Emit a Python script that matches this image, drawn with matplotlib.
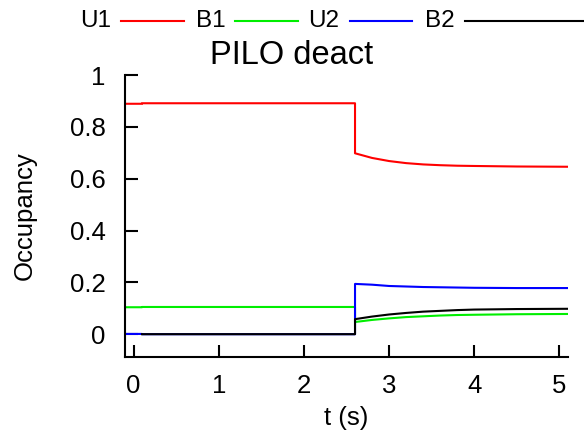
import numpy as np
import matplotlib
matplotlib.use("Agg")
import matplotlib.pyplot as plt
from matplotlib.lines import Line2D

plt.rcParams['font.family'] = ['Liberation Sans', 'DejaVu Sans']

# time points (s); 2.6 repeated for the step
t = [-0.1, 0.1, 0.1, 2.6, 2.6, 2.8, 3.0, 3.2, 3.4, 3.6, 3.8, 4.0, 4.5, 5.1]
u1 = [0.889, 0.889, 0.891, 0.891, 0.698, 0.680, 0.668, 0.660, 0.655, 0.652, 0.650, 0.649, 0.647, 0.646]
b1 = [0.104, 0.104, 0.105, 0.105, 0.047, 0.055, 0.061, 0.066, 0.069, 0.072, 0.074, 0.075, 0.077, 0.078]
u2 = [0.001, 0.001, 0.0, 0.0, 0.194, 0.191, 0.186, 0.184, 0.182, 0.181, 0.180, 0.179, 0.178, 0.178]
b2_t = [0.1, 2.6, 2.6, 2.8, 3.0, 3.2, 3.4, 3.6, 3.8, 4.0, 4.5, 5.1]
b2 = [0.0, 0.0, 0.058, 0.068, 0.076, 0.082, 0.087, 0.090, 0.093, 0.095, 0.097, 0.098]

names = ["U1", "B1", "U2", "B2"]
colors = ["#ff0000", "#00ee00", "#0000ff", "#000000"]

fs = 18.5

fig = plt.figure(figsize=(5.84, 4.34), dpi=100)
ax = fig.add_axes([125/584, 1-357/434, (568-125)/584, (357-75)/434])

series = [(t, u1), (t, b1), (t, u2), (b2_t, b2)]
for (x, y), c in zip(series, colors):
    ax.plot(x, y, color=c, lw=1.5)

ax.set_xlim(-0.1, 5.1)
ax.set_ylim(-0.088, 1.0)
ax.set_xticks([0, 1, 2, 3, 4, 5])
ax.set_yticks([0, 0.2, 0.4, 0.6, 0.8, 1])
ax.set_yticklabels(["0", "0.2", "0.4", "0.6", "0.8", "1"])
for s in ["top", "right"]:
    ax.spines[s].set_visible(False)
for s in ["left", "bottom"]:
    ax.spines[s].set_linewidth(1.5)
ax.tick_params(direction="in", length=9, width=1.5, labelsize=fs)
ax.tick_params(axis="x", pad=12)
ax.tick_params(axis="y", pad=14)
ax.set_xlabel("t (s)", fontsize=fs)
ax.set_ylabel("Occupancy", fontsize=fs)
ax.xaxis.set_label_coords(0.5, -0.172)
ax.yaxis.set_label_coords(-0.2, 0.5)

fig.text(0.5, 1-55/434, "PILO deact", ha="center", va="center", fontsize=23.5)

# legend row along the top
text_x = [80, 196, 308, 425]
line_x = [(121, 184), (235, 298), (350, 412), (465, 590)]
ly = 1-21/434
for n, c, tx, (x0, x1) in zip(names, colors, text_x, line_x):
    fig.text(tx/584, ly, n, ha="left", va="center", fontsize=17.5)
    fig.add_artist(Line2D([x0/584, x1/584], [ly, ly], color=c, lw=1.5,
                          transform=fig.transFigure))

fig.savefig("out.png", dpi=100)
